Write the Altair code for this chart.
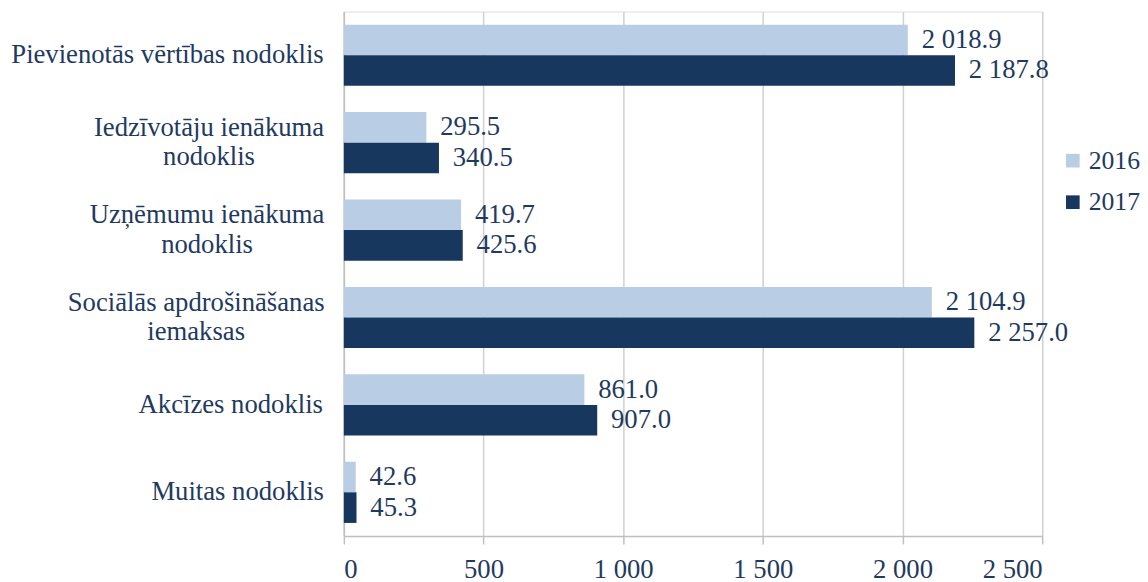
import altair as alt
import pandas as pd

categories = [
    "Pievienotās vērtības nodoklis",
    "Iedzīvotāju ienākuma|nodoklis",
    "Uzņēmumu ienākuma|nodoklis",
    "Sociālās apdrošināšanas|iemaksas",
    "Akcīzes nodoklis",
    "Muitas nodoklis",
]
years = ["2016", "2017"]
v2016 = [2018.9, 295.5, 419.7, 2104.9, 861.0, 42.6]
v2017 = [2187.8, 340.5, 425.6, 2257.0, 907.0, 45.3]
x_ticks = [0, 500, 1000, 1500, 2000, 2500]

# distance of each label's centre from the axis (centres multi-line labels)
label_pad = [179, 137, 139, 150, 115, 108]

rows = []
for c, a, b in zip(categories, v2016, v2017):
    for y, v in zip(years, (a, b)):
        rows.append({"cat": c, "year": y, "value": v,
                     "label": f"{v:,.1f}".replace(",", " ")})
df = pd.DataFrame(rows)

TXT = "#1F3A5F"
FONT = "Liberation Serif"
FS = 27

pad_cond = {
    "condition": [
        {"test": f"datum.value == '{c}'", "value": p}
        for c, p in zip(categories, label_pad)
    ],
    "value": 22,
}
off_cond = {
    "condition": [
        {"test": "indexof(datum.value, '|') >= 0", "value": -15}
    ],
    "value": 0,
}

base = alt.Chart(df).encode(
    y=alt.Y("cat:N", sort=categories, title=None,
            scale=alt.Scale(paddingInner=0.3, paddingOuter=0.15),
            axis=alt.Axis(labelExpr="split(datum.label, '|')",
                          labelAlign="center", labelPadding=pad_cond,
                          labelOffset=off_cond,
                          labelFontSize=FS, labelFont=FONT, labelColor=TXT,
                          labelLineHeight=30, ticks=False,
                          domainColor="#BFBFBF", domainWidth=1.5,
                          labelLimit=400)),
    yOffset=alt.YOffset("year:N", sort=years, scale=alt.Scale(paddingInner=0, paddingOuter=0)),
    x=alt.X("value:Q", title=None,
            scale=alt.Scale(domain=[0, 2500], nice=False),
            axis=alt.Axis(values=x_ticks,
                          labelExpr="replace(format(datum.value, ','), ',', ' ')",
                          labelFontSize=FS, labelFont=FONT, labelColor=TXT,
                          labelPadding=13, tickSize=8, tickColor="#BFBFBF",
                          tickWidth=1.5, domainColor="#BFBFBF", domainWidth=1.5,
                          gridColor="#D0D0D0", gridWidth=1.5)),
)

bars = base.mark_bar().encode(
    color=alt.Color("year:N", sort=years,
                    scale=alt.Scale(domain=years, range=["#B9CDE5", "#17375E"]),
                    legend=alt.Legend(title=None, orient="none", legendX=725, legendY=138,
                                      symbolType="square", symbolSize=190,
                                      symbolStrokeWidth=0, symbolOpacity=1,
                                      labelFontSize=26, labelFont=FONT, labelColor=TXT,
                                      rowPadding=16, labelOffset=3)),
)

labels = base.mark_text(align="left", baseline="middle", dx=14,
                        fontSize=FS, font=FONT, color=TXT).encode(
    text="label:N",
)

chart = (bars + labels).properties(
    width=707, height=531,
    padding={"left": 2, "top": 0, "right": 0, "bottom": 0},
).configure_view(stroke=None).configure(background="white")

chart.save("out.html", embed_options={"renderer": "svg", "actions": False})
